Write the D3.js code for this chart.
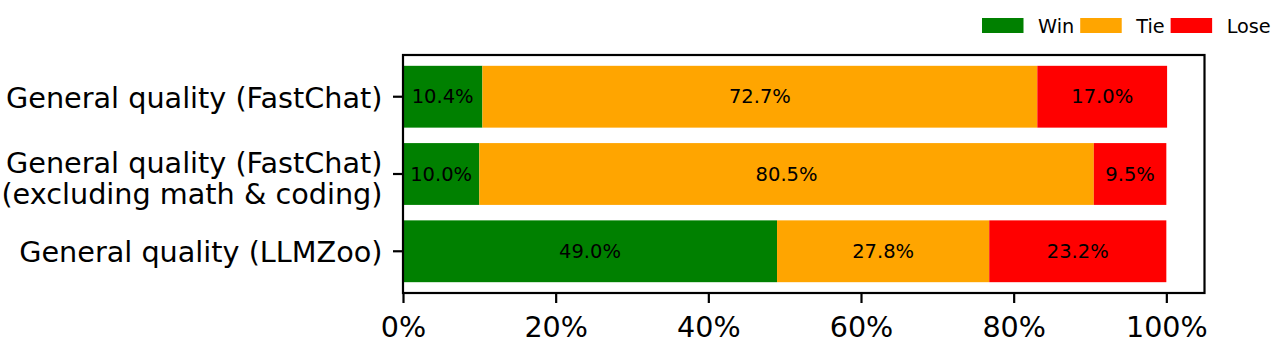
<!DOCTYPE html>
<html>
<head>
<meta charset="utf-8">
<script src="https://cdn.jsdelivr.net/npm/d3@7"></script>
<style>
  html, body { margin: 0; padding: 0; background: #fff; }
  svg { display: block; font-family: "DejaVu Sans", sans-serif; }
</style>
</head>
<body>
<svg id="chart" width="1283" height="359"></svg>
<script>
// ---- data ----
const categories = [
  ["General quality (FastChat)"],
  ["General quality (FastChat)", "(excluding math & coding)"],
  ["General quality (LLMZoo)"]
];
const seriesNames = ["Win", "Tie", "Lose"];
const winValues  = [10.4, 10.0, 49.0];
const tieValues  = [72.7, 80.5, 27.8];
const loseValues = [17.0, 9.5, 23.2];
const seriesColors = ["#008000", "#ffa500", "#ff0000"];
const xTickValues = [0, 20, 40, 60, 80, 100];

// ---- layout ----
const svg = d3.select("#chart");
const plotLeft = 403, plotRight = 1204.5, plotTop = 55, plotBottom = 293;

const x = d3.scaleLinear().domain([0, 105]).range([plotLeft, plotRight]);
const y = d3.scaleLinear().domain([-0.54, 2.54]).range([plotTop, plotBottom]);
const barH = y(0.8) - y(0);

const series = [winValues, tieValues, loseValues];

// bars
categories.forEach((cat, i) => {
  let acc = 0;
  series.forEach((vals, s) => {
    const v = vals[i];
    const x0 = x(acc), x1 = x(acc + v);
    svg.append("rect")
      .attr("x", x0).attr("y", y(i) - barH / 2)
      .attr("width", x1 - x0).attr("height", barH)
      .attr("fill", seriesColors[s]);
    svg.append("text")
      .attr("x", (x0 + x1) / 2).attr("y", y(i) + 6.6)
      .attr("text-anchor", "middle")
      .attr("font-size", "19.5px")
      .attr("fill", "#000")
      .text(v.toFixed(1) + "%");
    acc += v;
  });
});

// spines
svg.append("rect")
  .attr("x", plotLeft).attr("y", plotTop)
  .attr("width", plotRight - plotLeft).attr("height", plotBottom - plotTop)
  .attr("fill", "none").attr("stroke", "#000").attr("stroke-width", 2.2);

// x axis
const xAxis = d3.axisBottom(x).tickValues(xTickValues)
  .tickFormat(d => d + "%").tickSize(10).tickPadding(6);
const gx = svg.append("g").attr("transform", `translate(0,${plotBottom})`).call(xAxis);
gx.select(".domain").remove();
gx.selectAll(".tick line").attr("stroke", "#000").attr("stroke-width", 2.2);
gx.selectAll(".tick text").attr("font-size", "28.6px").attr("fill", "#000")
  .attr("font-family", "DejaVu Sans").attr("dy", null).attr("y", null)
  .attr("transform", "translate(0,43.5)");

// y ticks and labels
categories.forEach((lines, i) => {
  const cy = y(i);
  svg.append("line")
    .attr("x1", plotLeft - 10).attr("x2", plotLeft)
    .attr("y1", cy).attr("y2", cy)
    .attr("stroke", "#000").attr("stroke-width", 2.2);
  const lineGap = 31;
  const firstBase = lines.length === 1 ? cy + 10.8 : cy - 1.5;
  lines.forEach((ln, k) => {
    svg.append("text")
      .attr("x", 382.5).attr("y", firstBase + k * lineGap)
      .attr("text-anchor", "end")
      .attr("font-size", "28.7px")
      .attr("fill", "#000")
      .text(ln);
  });
});

// legend
let lx = 982;
seriesNames.forEach((name, s) => {
  svg.append("rect")
    .attr("x", lx).attr("y", 18)
    .attr("width", 41.5).attr("height", 15)
    .attr("fill", seriesColors[s]);
  const t = svg.append("text")
    .attr("x", lx + 56).attr("y", 32.6)
    .attr("font-size", "19.3px")
    .attr("fill", "#000")
    .text(name);
  const w = t.node().getComputedTextLength();
  lx = lx + 56 + w + 6;
});
</script>
</body>
</html>
